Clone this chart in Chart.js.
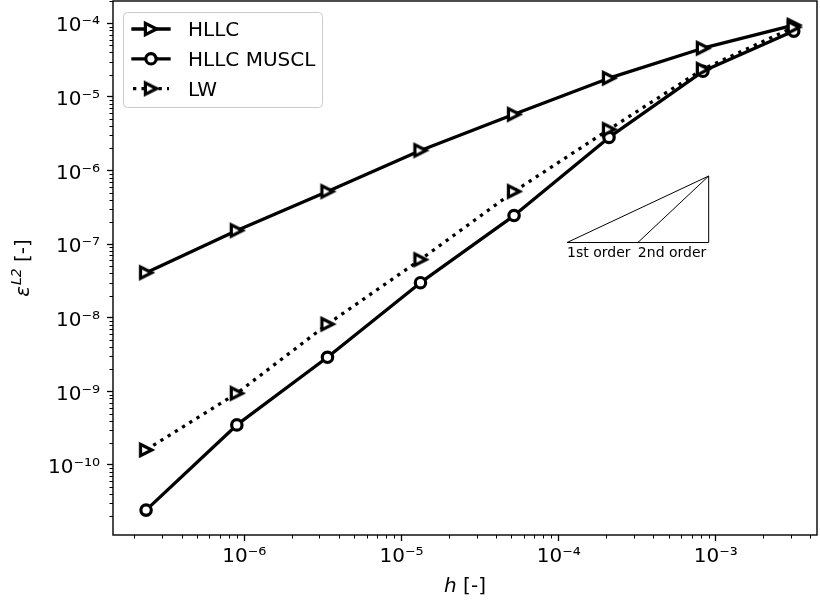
<!DOCTYPE html>
<html>
<head>
<meta charset="utf-8">
<script src="https://cdn.jsdelivr.net/npm/chart.js@4.4.1/dist/chart.umd.min.js"></script>
<style>
  html, body { margin: 0; padding: 0; background: #fff; }
  #wrap { width: 820px; height: 603px; }
</style>
</head>
<body>
<div id="wrap"><canvas id="graficoErro" width="820" height="603"></canvas></div>
<script>
// mesh size h [-] (same for all schemes)
const hValues = [2.37e-7, 8.96e-7, 3.38e-6, 1.32e-5, 5.20e-5, 2.09e-4, 8.27e-4, 3.13e-3];

// L2 error per scheme
const hllcErr  = [4.09e-8, 1.53e-7, 5.18e-7, 1.87e-6, 5.78e-6, 1.79e-5, 4.57e-5, 9.4e-5];
const musclErr = [2.44e-11, 3.5e-10, 2.90e-9, 2.99e-8, 2.44e-7, 2.81e-6, 2.22e-5, 7.8e-5];
const lwErr    = [1.6e-10, 9.4e-10, 8.17e-9, 6.15e-8, 5.18e-7, 3.61e-6, 2.37e-5, 8.8e-5];

const seriesLabels = ['HLLC', 'HLLC MUSCL', 'LW'];

// major ticks (labelled)
const xTickValues = [1e-6, 1e-5, 1e-4, 1e-3];
const xTickLabels = ['10⁻⁶', '10⁻⁵', '10⁻⁴', '10⁻³'];
const yTickValues = [1e-10, 1e-9, 1e-8, 1e-7, 1e-6, 1e-5, 1e-4];
const yTickLabels = ['10⁻¹⁰', '10⁻⁹', '10⁻⁸', '10⁻⁷', '10⁻⁶', '10⁻⁵', '10⁻⁴'];

// order-of-convergence triangle
const triangleH   = [1.13e-4, 9.0e-4, 9.0e-4, 1.13e-4];
const triangleErr = [1.05e-7, 1.05e-7, 8.4e-7, 1.05e-7];
const secondOrderH   = [3.19e-4, 9.0e-4];
const secondOrderErr = [1.05e-7, 8.4e-7];
const orderLabels = ['1st order', '2nd order'];

const FONT = "'DejaVu Sans', 'Liberation Sans', sans-serif";

function pontos(xs, ys) {
  return xs.map((x, i) => ({ x: x, y: ys[i] }));
}

// matplotlib style '>' marker
function marcadorTriangulo() {
  const c = document.createElement('canvas');
  c.width = 20; c.height = 20;
  const g = c.getContext('2d');
  const s = 5.6;
  g.beginPath();
  g.moveTo(10 + s, 10);
  g.lineTo(10 - s, 10 - s);
  g.lineTo(10 - s, 10 + s);
  g.closePath();
  g.fillStyle = '#fff';
  g.fill();
  g.lineWidth = 3.2;
  g.lineJoin = 'miter';
  g.strokeStyle = '#000';
  g.stroke();
  return c;
}
const triMarker = marcadorTriangulo();

// log ticks: 1..9 x 10^n inside [min, max]
function ticksLog(min, max) {
  const out = [];
  for (let e = Math.floor(Math.log10(min)); e <= Math.ceil(Math.log10(max)); e++) {
    for (let k = 1; k <= 9; k++) {
      const v = k * Math.pow(10, e);
      if (v < min || v > max) continue;
      out.push({ value: v, major: k === 1 });
    }
  }
  return out;
}

function rotulo(values, labels, v) {
  const i = values.findIndex(m => Math.abs(Math.log10(m) - Math.log10(v)) < 1e-6);
  return i >= 0 ? labels[i] : '';
}

const decoracao = {
  id: 'decoracao',
  afterDraw(chart) {
    const ctx = chart.ctx;
    const area = chart.chartArea;
    const sx = chart.scales.x;
    const sy = chart.scales.y;
    ctx.save();

    // minor ticks
    ctx.strokeStyle = '#000';
    ctx.lineWidth = 1;
    sx.ticks.forEach(t => {
      if (t.major) return;
      const px = Math.round(sx.getPixelForValue(t.value)) + 0.5;
      ctx.beginPath(); ctx.moveTo(px, area.bottom); ctx.lineTo(px, area.bottom + 3.5); ctx.stroke();
    });
    sy.ticks.forEach(t => {
      if (t.major) return;
      const py = Math.round(sy.getPixelForValue(t.value)) + 0.5;
      ctx.beginPath(); ctx.moveTo(area.left, py); ctx.lineTo(area.left - 3.5, py); ctx.stroke();
    });

    // frame
    ctx.lineWidth = 1.4;
    ctx.strokeRect(area.left, area.top, area.right - area.left, area.bottom - area.top);

    // order labels
    ctx.fillStyle = '#000';
    ctx.font = '14px ' + FONT;
    ctx.textAlign = 'left';
    ctx.textBaseline = 'alphabetic';
    const yBase = sy.getPixelForValue(triangleErr[0]);
    ctx.fillText(orderLabels[0], sx.getPixelForValue(triangleH[0]), yBase + 14);
    ctx.fillText(orderLabels[1], sx.getPixelForValue(secondOrderH[0]), yBase + 14);

    // legend
    ctx.beginPath();
    ctx.roundRect(123.5, 12.5, 199, 95, 4);
    ctx.fillStyle = 'rgba(255,255,255,0.8)';
    ctx.fill();
    ctx.strokeStyle = '#cccccc';
    ctx.lineWidth = 1;
    ctx.stroke();
    chart.data.datasets.slice(0, 3).forEach((ds, i) => {
      const yc = 29 + 29.8 * i;
      ctx.strokeStyle = '#000';
      ctx.lineWidth = ds.borderWidth;
      ctx.setLineDash(ds.borderDash || []);
      ctx.lineCap = ds.borderDash ? 'butt' : 'square';
      ctx.beginPath(); ctx.moveTo(133, yc); ctx.lineTo(169, yc); ctx.stroke();
      ctx.setLineDash([]);
      if (ds.pointStyle === 'circle') {
        ctx.beginPath();
        ctx.arc(151, yc, ds.pointRadius, 0, Math.PI * 2);
        ctx.fillStyle = '#fff'; ctx.fill();
        ctx.lineWidth = ds.pointBorderWidth; ctx.stroke();
      } else {
        ctx.drawImage(ds.pointStyle, 151 - ds.pointStyle.width / 2, yc - ds.pointStyle.height / 2);
      }
      ctx.fillStyle = '#000';
      ctx.font = '20px ' + FONT;
      ctx.fillText(ds.label, 188, yc + 7.3);
    });

    // x axis title: $h$ [-]
    const cx = (area.left + area.right) / 2;
    ctx.font = 'italic 20px ' + FONT;
    const wh = ctx.measureText('h').width;
    ctx.font = '20px ' + FONT;
    const wr = ctx.measureText(' [-]').width;
    let x0 = cx - (wh + wr) / 2;
    ctx.font = 'italic 20px ' + FONT;
    ctx.fillText('h', x0, 592);
    ctx.font = '20px ' + FONT;
    ctx.fillText(' [-]', x0 + wh, 592);

    // y axis title: $\varepsilon^{L2}$ [-]
    const cy = (area.top + area.bottom) / 2;
    ctx.translate(29, cy);
    ctx.rotate(-Math.PI / 2);
    ctx.font = 'italic 20px ' + FONT;
    const we = ctx.measureText('ε').width;
    ctx.font = 'italic 14px ' + FONT;
    const wl = ctx.measureText('L2').width;
    ctx.font = '20px ' + FONT;
    const wb = ctx.measureText(' [-]').width;
    x0 = -(we + wl + 1 + wb) / 2;
    ctx.font = 'italic 20px ' + FONT;
    ctx.fillText('ε', x0, 0);
    ctx.font = 'italic 14px ' + FONT;
    ctx.fillText('L2', x0 + we + 1, -8);
    ctx.font = '20px ' + FONT;
    ctx.fillText(' [-]', x0 + we + 1 + wl, 0);

    ctx.restore();
  }
};

const linhaBase = {
  borderColor: '#000',
  backgroundColor: '#fff',
  pointBackgroundColor: '#fff',
  pointBorderColor: '#000',
  borderJoinStyle: 'round',
  tension: 0,
  fill: false
};

new Chart(document.getElementById('graficoErro'), {
  type: 'line',
  data: {
    datasets: [
      Object.assign({}, linhaBase, {
        label: seriesLabels[0], data: pontos(hValues, hllcErr),
        borderWidth: 3.3, pointStyle: triMarker, pointRadius: 7, pointHoverRadius: 7, order: 3
      }),
      Object.assign({}, linhaBase, {
        label: seriesLabels[1], data: pontos(hValues, musclErr),
        borderWidth: 3.3, pointStyle: 'circle', pointRadius: 5.2, pointHoverRadius: 5.2,
        pointBorderWidth: 3.2, pointHoverBorderWidth: 3.2, order: 2
      }),
      Object.assign({}, linhaBase, {
        label: seriesLabels[2], data: pontos(hValues, lwErr),
        borderWidth: 3.3, borderDash: [3.3, 5.2], borderCapStyle: 'butt',
        pointStyle: triMarker, pointRadius: 7, pointHoverRadius: 7, order: 1
      }),
      {
        label: 'triangle', data: pontos(triangleH, triangleErr),
        borderColor: '#000', borderWidth: 1, pointRadius: 0, tension: 0, order: 4
      },
      {
        label: 'second', data: pontos(secondOrderH, secondOrderErr),
        borderColor: '#000', borderWidth: 1, pointRadius: 0, tension: 0, order: 4
      }
    ]
  },
  options: {
    responsive: false,
    animation: false,
    events: [],
    layout: { autoPadding: false, padding: { top: 1, right: 3, left: 0, bottom: 0 } },
    plugins: {
      legend: { display: false },
      tooltip: { enabled: false }
    },
    scales: {
      x: {
        type: 'logarithmic',
        min: 1.46e-7,
        max: 4.4e-3,
        afterBuildTicks(scale) { scale.ticks = ticksLog(scale.min, scale.max); },
        afterFit(scale) {
          scale.height = 68;
          scale.paddingLeft = 0; scale.paddingRight = 0;
        },
        ticks: {
          autoSkip: false,
          maxRotation: 0,
          padding: 4,
          color: '#000',
          font: { family: FONT, size: 20 },
          callback: v => rotulo(xTickValues, xTickLabels, v)
        },
        grid: {
          display: true, drawOnChartArea: false, drawTicks: true, tickLength: 6,
          tickWidth: 1.3,
          tickColor: c => (c.tick && c.tick.major) ? '#000' : 'rgba(0,0,0,0)'
        },
        border: { display: false },
        title: { display: false }
      },
      y: {
        type: 'logarithmic',
        min: 1.12e-11,
        max: 2e-4,
        afterBuildTicks(scale) { scale.ticks = ticksLog(scale.min, scale.max); },
        afterFit(scale) {
          scale.width = 113;
          scale.paddingTop = 0; scale.paddingBottom = 0;
        },
        ticks: {
          autoSkip: false,
          padding: 7,
          labelOffset: 3,
          color: '#000',
          font: { family: FONT, size: 20 },
          callback: v => rotulo(yTickValues, yTickLabels, v)
        },
        grid: {
          display: true, drawOnChartArea: false, drawTicks: true, tickLength: 6,
          tickWidth: 1.3,
          tickColor: c => (c.tick && c.tick.major) ? '#000' : 'rgba(0,0,0,0)'
        },
        border: { display: false },
        title: { display: false }
      }
    }
  },
  plugins: [decoracao]
});
</script>
</body>
</html>
